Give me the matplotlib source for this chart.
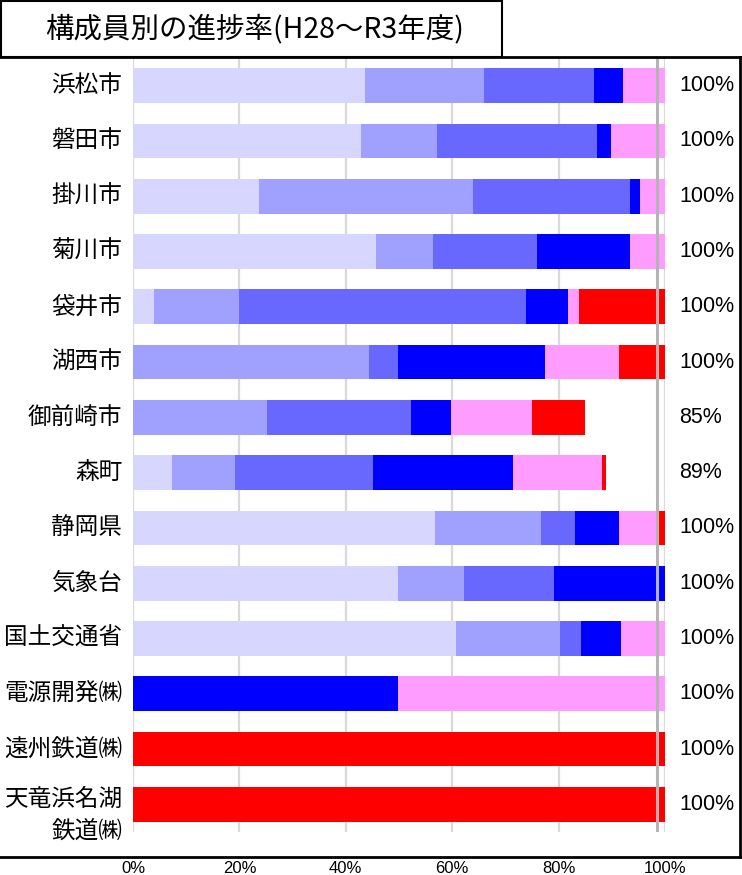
import numpy as np
import matplotlib
matplotlib.use("Agg")
import matplotlib.pyplot as plt
from matplotlib.lines import Line2D
from matplotlib.patches import Rectangle

plt.rcParams['font.family'] = ['Noto Sans CJK JP', 'DejaVu Sans']

title = "構成員別の進捗率(H28～R3年度)"
members = ["浜松市", "磐田市", "掛川市", "菊川市", "袋井市", "湖西市", "御前崎市",
           "森町", "静岡県", "気象台", "国土交通省", "電源開発㈱", "遠州鉄道㈱",
           "天竜浜名湖\n鉄道㈱"]

# progress by stage (%)
stage1 = [43.6, 42.8, 23.6, 45.6, 4.0, 0.0, 0.0, 7.3, 56.8, 49.8, 60.8, 0, 0, 0]
stage2 = [22.3, 14.4, 40.3, 10.7, 16.0, 44.4, 25.2, 11.9, 19.9, 12.5, 19.5, 0, 0, 0]
stage3 = [20.7, 30.1, 29.5, 19.6, 53.9, 5.5, 27.1, 26.0, 6.4, 16.8, 3.9, 0, 0, 0]
stage4 = [5.5, 2.5, 1.9, 17.5, 7.8, 27.6, 7.5, 26.3, 8.2, 20.9, 7.5, 49.8, 0, 0]
stage5 = [7.9, 10.2, 4.7, 6.6, 2.1, 13.9, 15.2, 16.6, 7.4, 0.0, 8.3, 50.2, 0, 0]
stage6 = [0.0, 0.0, 0.0, 0.0, 16.2, 8.6, 10.0, 0.9, 1.3, 0.0, 0.0, 0, 100, 100]
ref_line = 98.5

stages = [stage1, stage2, stage3, stage4, stage5, stage6]
colors = ["#d6d6ff", "#a0a0ff", "#6868ff", "#0000ff", "#ff9cff", "#ff0000"]

W, H = 742, 875
fig = plt.figure(figsize=(W / 100, H / 100), dpi=100)
ax = fig.add_axes([133 / W, 1 - 832 / H, 532 / W, 774 / H])

y = np.arange(len(members))
left = np.zeros(len(members))
for vals, c in zip(stages, colors):
    vals = np.array(vals, dtype=float)
    ax.barh(y, vals, left=left, height=0.63, color=c, zorder=2)
    left += vals

ax.axvline(ref_line, color="#b4b4b4", lw=2.2, zorder=3)

for i, tot in enumerate(left):
    ax.annotate(f"{tot:.0f}%", xy=(100, i), xytext=(10, 0), textcoords="offset points",
                va="center", ha="left", fontsize=15.5, family="Liberation Sans")

ax.set_xlim(0, 100)
ax.set_ylim(len(members) - 0.5, -0.5)
ax.set_xticks([0, 20, 40, 60, 80, 100])
ax.set_xticklabels(["0%", "20%", "40%", "60%", "80%", "100%"], family="Liberation Sans", fontsize=12)
ax.tick_params(axis="x", length=0, pad=21)
ax.set_yticks([])
ax.grid(axis="x", color="#d9d9d9", lw=1.6, zorder=0)
ax.set_axisbelow(True)
for s in ax.spines.values():
    s.set_visible(False)

# category labels
for i, name in enumerate(members):
    dy = 0.2 if "\n" in name else 0
    ax.text(-2, i + dy, name, ha="right", va="center", fontsize=17, linespacing=1.5)

# outer frame
fx = lambda px: px / W
fy = lambda py: 1 - py / H
fig.add_artist(Line2D([0, fx(740)], [fy(57), fy(57)], color="black", lw=2))
fig.add_artist(Line2D([fx(740), fx(740)], [fy(57), fy(857)], color="black", lw=2))
fig.add_artist(Line2D([0, fx(740)], [fy(857), fy(857)], color="black", lw=2))
fig.add_artist(Rectangle((fx(1), fy(57)), fx(501), 56 / H, fill=False, ec="black", lw=1.5))
fig.text(fx(255), fy(29), title, ha="center", va="center", fontsize=20.5)

fig.savefig("out.png", dpi=100)
